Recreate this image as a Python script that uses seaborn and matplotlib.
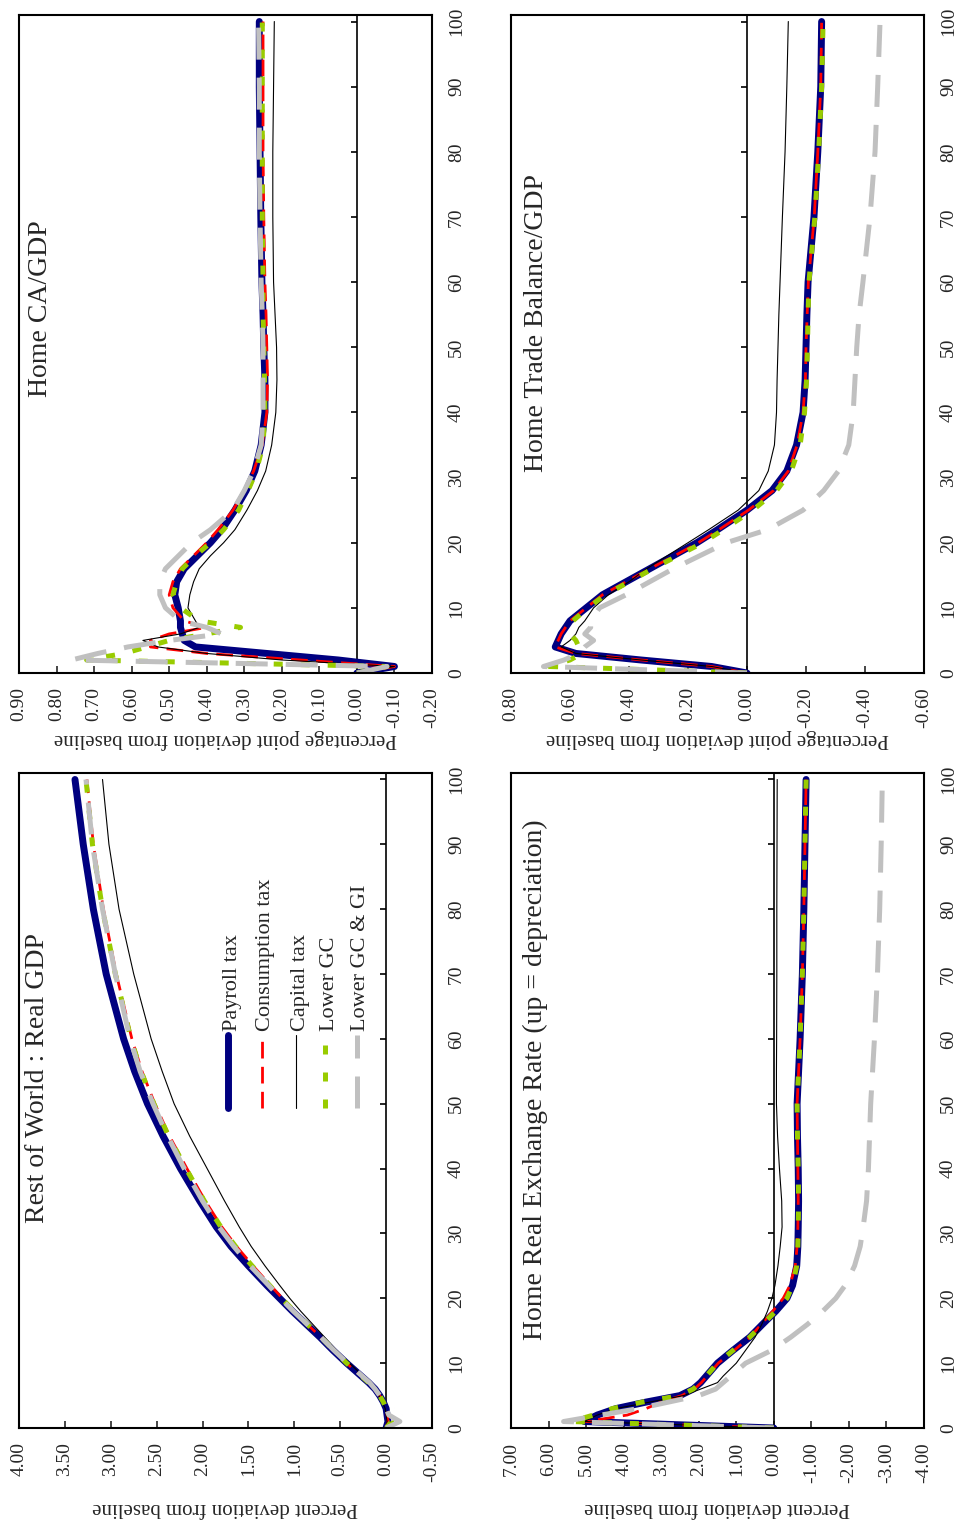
import numpy as np
import pandas as pd
import matplotlib
matplotlib.use("Agg")
import matplotlib.pyplot as plt
from matplotlib.markers import TICKLEFT
import seaborn as sns

# Data (periods after the shock, deviation from baseline)
periods = [0, 1, 2, 3, 4, 5, 6, 7, 8, 10, 12, 14, 16, 18, 20, 22, 25, 28, 31, 35,
           40, 45, 50, 55, 60, 70, 80, 90, 100]
scenarios = ["Payroll tax", "Consumption tax", "Capital tax", "Lower GC", "Lower GC & GI"]
period_ticks = list(range(0, 101, 10))

# Rest of World : Real GDP
row_payroll = [0.00, -0.02, -0.01, 0.00, 0.03, 0.07, 0.12, 0.19, 0.27, 0.43, 0.58, 0.72, 0.87, 1.02, 1.16, 1.30, 1.50, 1.69, 1.85, 2.03,
               2.24, 2.43, 2.60, 2.74, 2.86, 3.05, 3.19, 3.30, 3.39]
row_consumption = [0.00, -0.02, -0.01, 0.00, 0.03, 0.07, 0.12, 0.19, 0.27, 0.43, 0.57, 0.71, 0.86, 1.00, 1.13, 1.26, 1.45, 1.63, 1.79, 1.97,
                   2.17, 2.36, 2.52, 2.66, 2.77, 2.94, 3.08, 3.19, 3.26]
row_capital = [0.00, -0.01, 0.00, 0.01, 0.04, 0.08, 0.12, 0.18, 0.25, 0.40, 0.54, 0.67, 0.80, 0.93, 1.05, 1.16, 1.32, 1.47, 1.60, 1.76,
               1.95, 2.14, 2.31, 2.44, 2.56, 2.75, 2.91, 3.02, 3.09]
row_lower_gc = [0.00, -0.06, -0.02, 0.00, 0.03, 0.07, 0.12, 0.19, 0.27, 0.43, 0.57, 0.71, 0.86, 1.00, 1.14, 1.27, 1.46, 1.64, 1.80, 1.98,
                2.18, 2.37, 2.53, 2.67, 2.78, 2.95, 3.09, 3.20, 3.27]
row_lower_gc_gi = [0.00, -0.15, -0.03, 0.00, 0.03, 0.07, 0.12, 0.18, 0.26, 0.42, 0.57, 0.71, 0.86, 1.01, 1.15, 1.28, 1.48, 1.66, 1.82, 2.00,
                   2.20, 2.38, 2.54, 2.68, 2.79, 2.95, 3.09, 3.20, 3.27]

# Home CA/GDP
ca_payroll = [0.00, -0.10, 0.05, 0.24, 0.43, 0.46, 0.465, 0.47, 0.47, 0.476, 0.485, 0.48, 0.46, 0.425, 0.39, 0.36, 0.325, 0.295, 0.272, 0.255,
              0.245, 0.245, 0.248, 0.25, 0.253, 0.256, 0.258, 0.26, 0.26]
ca_consumption = [0.00, -0.10, 0.15, 0.40, 0.55, 0.55, 0.50, 0.40, 0.46, 0.49, 0.50, 0.49, 0.47, 0.435, 0.40, 0.37, 0.33, 0.30, 0.275, 0.252,
                  0.24, 0.238, 0.24, 0.242, 0.245, 0.248, 0.25, 0.25, 0.25]
ca_capital = [0.00, -0.10, 0.20, 0.40, 0.53, 0.57, 0.47, 0.42, 0.43, 0.45, 0.445, 0.435, 0.42, 0.39, 0.355, 0.325, 0.293, 0.265, 0.243, 0.227,
              0.216, 0.213, 0.214, 0.218, 0.222, 0.224, 0.224, 0.222, 0.22]
ca_lower_gc = [0.00, -0.08, 0.72, 0.62, 0.56, 0.50, 0.40, 0.31, 0.42, 0.47, 0.49, 0.48, 0.465, 0.43, 0.39, 0.355, 0.315, 0.29, 0.268, 0.25,
               0.245, 0.246, 0.248, 0.25, 0.25, 0.252, 0.252, 0.252, 0.252]
ca_lower_gc_gi = [0.00, -0.08, 0.76, 0.69, 0.61, 0.50, 0.36, 0.40, 0.47, 0.51, 0.525, 0.525, 0.51, 0.475, 0.44, 0.39, 0.33, 0.30, 0.275, 0.255,
                  0.25, 0.25, 0.25, 0.252, 0.255, 0.258, 0.26, 0.26, 0.262]

# Home Trade Balance/GDP
tb_payroll = [0.00, 0.12, 0.36, 0.58, 0.65, 0.64, 0.63, 0.615, 0.60, 0.545, 0.49, 0.41, 0.33, 0.25, 0.17, 0.10, 0.00, -0.085, -0.135, -0.168,
              -0.19, -0.197, -0.20, -0.203, -0.207, -0.227, -0.24, -0.25, -0.253]
tb_consumption = [0.00, 0.12, 0.36, 0.58, 0.65, 0.64, 0.63, 0.615, 0.60, 0.545, 0.49, 0.41, 0.33, 0.245, 0.165, 0.095, -0.005, -0.09, -0.14, -0.17,
                  -0.19, -0.198, -0.20, -0.204, -0.208, -0.228, -0.24, -0.25, -0.253]
tb_capital = [0.00, 0.12, 0.36, 0.58, 0.63, 0.60, 0.58, 0.57, 0.55, 0.52, 0.47, 0.40, 0.34, 0.27, 0.20, 0.13, 0.03, -0.04, -0.072, -0.093,
              -0.10, -0.102, -0.105, -0.108, -0.112, -0.12, -0.129, -0.135, -0.14]
tb_lower_gc = [0.00, 0.67, 0.60, 0.56, 0.57, 0.58, 0.60, 0.60, 0.59, 0.54, 0.48, 0.40, 0.32, 0.235, 0.15, 0.08, -0.02, -0.10, -0.15, -0.18,
               -0.195, -0.202, -0.205, -0.207, -0.21, -0.23, -0.243, -0.253, -0.258]
tb_lower_gc_gi = [0.00, 0.69, 0.62, 0.57, 0.55, 0.52, 0.55, 0.53, 0.53, 0.50, 0.41, 0.33, 0.25, 0.16, 0.07, -0.07, -0.19, -0.26, -0.31, -0.345,
                  -0.36, -0.366, -0.372, -0.38, -0.393, -0.417, -0.434, -0.443, -0.451]

# Home Real Exchange Rate
rer_payroll = [0.00, 5.05, 4.70, 4.20, 3.40, 2.50, 2.15, 1.95, 1.80, 1.50, 1.08, 0.64, 0.30, -0.05, -0.35, -0.50, -0.61, -0.64, -0.65, -0.66,
               -0.65, -0.63, -0.62, -0.66, -0.70, -0.76, -0.80, -0.83, -0.86]
rer_consumption = [0.00, 5.00, 3.90, 3.40, 3.00, 2.45, 2.12, 1.93, 1.78, 1.48, 1.05, 0.64, 0.33, 0.03, -0.25, -0.43, -0.57, -0.62, -0.64, -0.65,
                   -0.64, -0.63, -0.62, -0.66, -0.70, -0.76, -0.80, -0.83, -0.86]
rer_capital = [0.00, 5.05, 4.70, 4.20, 3.30, 2.40, 1.95, 1.50, 1.35, 1.00, 0.75, 0.50, 0.32, 0.17, 0.05, -0.03, -0.11, -0.17, -0.22, -0.21,
               -0.15, -0.10, -0.07, -0.07, -0.075, -0.08, -0.08, -0.085, -0.09]
rer_lower_gc = [0.00, 5.40, 4.80, 4.30, 3.50, 2.50, 2.15, 1.95, 1.80, 1.50, 1.08, 0.64, 0.30, -0.05, -0.35, -0.50, -0.61, -0.64, -0.65, -0.66,
                -0.65, -0.63, -0.62, -0.66, -0.70, -0.76, -0.80, -0.83, -0.86]
rer_lower_gc_gi = [0.00, 5.60, 4.60, 3.60, 2.80, 2.00, 1.55, 1.35, 1.15, 0.75, 0.05, -0.45, -0.90, -1.30, -1.65, -1.90, -2.15, -2.30, -2.38, -2.47,
                   -2.52, -2.55, -2.58, -2.63, -2.68, -2.76, -2.82, -2.86, -2.89]

palette = {"Payroll tax": "#000080", "Consumption tax": "#FF0000", "Capital tax": "#000000",
           "Lower GC": "#99CC00", "Lower GC & GI": "#C0C0C0"}
widths = {"Payroll tax": 5.0, "Consumption tax": 2.0, "Capital tax": 0.8,
          "Lower GC": 3.6, "Lower GC & GI": 3.6}
dash_map = {"Payroll tax": "", "Consumption tax": (6, 3), "Capital tax": "",
            "Lower GC": (1.8, 3.6), "Lower GC & GI": (6.4, 3.6)}

sns.set_style("white")
plt.rcParams["font.family"] = ["Liberation Serif", "DejaVu Serif"]
plt.rcParams["axes.unicode_minus"] = False


def long_frame(series):
    rows = []
    for name, vals in zip(scenarios, series):
        for p, v in zip(periods, vals):
            rows.append({"period": p, "value": v, "scenario": name})
    return pd.DataFrame(rows)


def draw_panel(ax, series, xlim, xticks, xlabel, labelpad, title, title_pos):
    df = long_frame(series)
    ax.axvline(0, color="black", lw=1.2, zorder=1.5)
    sns.lineplot(data=df, x="value", y="period", hue="scenario", style="scenario",
                 size="scenario", hue_order=scenarios, style_order=scenarios,
                 size_order=scenarios, palette=palette, dashes=dash_map, sizes=widths,
                 estimator=None, sort=False, orient="y", legend=False, ax=ax)
    # period ticks sit on the zero line
    ax.plot(np.zeros(len(period_ticks)), period_ticks, ls="none", marker=TICKLEFT,
            ms=4, mew=1.2, color="black", zorder=1.6)
    ax.set_xlim(xlim)
    ax.set_ylim(0, 101)
    ax.set_xticks(xticks)
    ax.set_xticklabels([f"{t:.2f}" for t in xticks])
    ax.tick_params(axis="x", direction="in", length=5, width=1.2, labelsize=14,
                   labelrotation=90, pad=10, bottom=True)
    ax.yaxis.tick_right()
    ax.set_yticks(period_ticks)
    ax.tick_params(axis="y", length=0, labelsize=14, labelrotation=90, pad=11.5)
    for lab in ax.get_yticklabels():
        lab.set_va("center")
    ax.set_ylabel("")
    ax.set_xlabel(xlabel, rotation=180, fontsize=15, labelpad=labelpad)
    for s in ax.spines.values():
        s.set_linewidth(1.5)
        s.set_color("black")
    ax.text(title_pos[0], title_pos[1], title, rotation=90, fontsize=20,
            ha="left", va="bottom", transform=ax.transAxes)


fig = plt.figure(figsize=(9.62, 15.26), dpi=100)
W, H = 962, 1526
ax_ca = fig.add_axes([19 / W, (H - 673) / H, 413 / W, 658 / H])
ax_tb = fig.add_axes([511 / W, (H - 673) / H, 413 / W, 658 / H])
ax_row = fig.add_axes([19 / W, (H - 1428) / H, 413 / W, 655 / H])
ax_rer = fig.add_axes([511 / W, (H - 1428) / H, 413 / W, 655 / H])

pct = "Percent deviation from baseline"
ppt = "Percentage point deviation from baseline"

draw_panel(ax_row, [row_payroll, row_consumption, row_capital, row_lower_gc, row_lower_gc_gi],
           (4.0, -0.5), np.round(np.arange(-0.5, 4.01, 0.5), 2), pct, 11,
           "Rest of World : Real GDP", (0.015, 0.313))
draw_panel(ax_ca, [ca_payroll, ca_consumption, ca_capital, ca_lower_gc, ca_lower_gc_gi],
           (0.9, -0.2), np.round(np.arange(-0.2, 0.91, 0.1), 2), ppt, 1,
           "Home CA/GDP", (0.023, 0.419))
draw_panel(ax_tb, [tb_payroll, tb_consumption, tb_capital, tb_lower_gc, tb_lower_gc_gi],
           (0.8, -0.6), np.round(np.arange(-0.6, 0.81, 0.2), 2), ppt, 1,
           "Home Trade Balance/GDP", (0.032, 0.306))
draw_panel(ax_rer, [rer_payroll, rer_consumption, rer_capital, rer_lower_gc, rer_lower_gc_gi],
           (7.0, -4.0), np.arange(-4, 8, 1), pct, 11,
           "Home Real Exchange Rate (up = depreciation)", (0.029, 0.135))

# legend drawn by hand so that it turns with the rest of the page
leg_x = [0.506, 0.588, 0.671, 0.741, 0.818]
for name, lx in zip(scenarios, leg_x):
    line, = ax_row.plot([lx, lx], [0.489, 0.600], transform=ax_row.transAxes,
                        color=palette[name], lw=widths[name], solid_capstyle="round")
    if dash_map[name]:
        line.set_dashes(dash_map[name])
    ax_row.text(lx + 0.01, 0.606, name, rotation=90, fontsize=16, ha="center",
                va="bottom", transform=ax_row.transAxes)

fig.savefig("out.png", dpi=100)
